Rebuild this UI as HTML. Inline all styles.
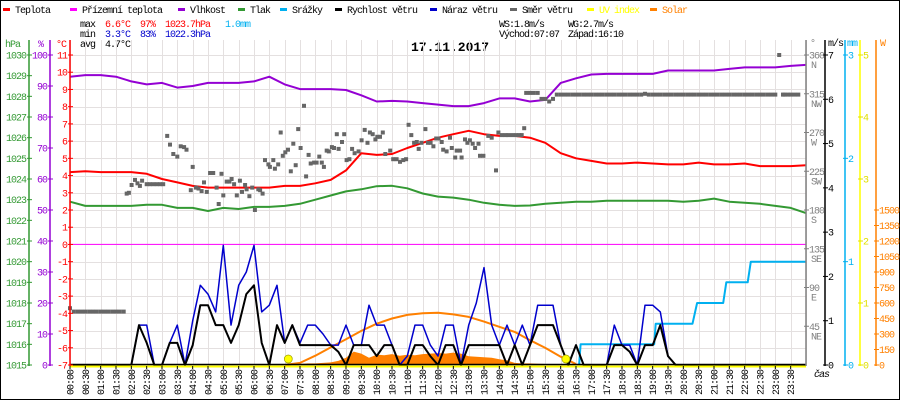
<!DOCTYPE html>
<html><head><meta charset="utf-8">
<style>
html,body{margin:0;padding:0;background:#fff;}
#wrap{position:relative;width:900px;height:400px;overflow:hidden;}
svg text{font-family:"Liberation Mono","DejaVu Sans Mono",monospace;font-size:10px;letter-spacing:-1px;}
</style></head>
<body>
<div id="wrap">
<svg id="chart" width="900" height="400" viewBox="0 0 900 400" xmlns="http://www.w3.org/2000/svg">
<rect x="0.5" y="0.5" width="899" height="399" fill="#fff" stroke="#000"/>
<g id="legend"></g>
<g>
<text x="80" y="27" fill="#000">max</text><text x="105" y="27" fill="#f00">6.6°C</text><text x="140" y="27" fill="#f00">97%</text><text x="165" y="27" fill="#f00">1023.7hPa</text><text x="225" y="27" fill="#00b0f0">1.0mm</text>
<text x="80" y="37" fill="#000">min</text><text x="105" y="37" fill="#0000cc">3.3°C</text><text x="140" y="37" fill="#0000cc">83%</text><text x="165" y="37" fill="#0000cc">1022.3hPa</text>
<text x="80" y="47" fill="#000">avg</text><text x="105" y="47" fill="#000">4.7°C</text>
<text x="499" y="27" fill="#000">WS:1.8m/s</text><text x="568" y="27" fill="#000">WG:2.7m/s</text>
<text x="499" y="37" fill="#000">Východ:07:07</text><text x="568" y="37" fill="#000">Západ:16:10</text>
</g>
<text x="450" y="51" text-anchor="middle" style="font-size:13px;font-weight:bold;letter-spacing:0">17.11.2017</text>
<g id="grid"></g>
<g id="series"></g>
<g id="axes"></g>
</svg>
</div>
<script>
// ---- data ----
const halfHours = [0,0.5,1,1.5,2,2.5,3,3.5,4,4.5,5,5.5,6,6.5,7,7.5,8,8.5,9,9.5,10,10.5,11,11.5,12,12.5,13,13.5,14,14.5,15,15.5,16,16.5,17,17.5,18,18.5,19,19.5,20,20.5,21,21.5,22,22.5,23,23.5,24];
const temperature = [4.2,4.25,4.2,4.2,4.2,4.1,3.8,3.6,3.4,3.3,3.3,3.3,3.3,3.3,3.4,3.4,3.55,3.75,4.3,5.3,5.2,5.25,5.6,5.9,6.2,6.4,6.6,6.4,6.3,6.3,6.2,5.9,5.3,5.0,4.85,4.7,4.7,4.75,4.7,4.65,4.65,4.75,4.65,4.65,4.7,4.55,4.55,4.55,4.6];
const apparentTemp = [0,0,0,0,0,0,0,0,0,0,0,0,0,0,0,0,0,0,0,0,0,0,0,0,0,0,0,0,0,0,0,0,0,0,0,0,0,0,0,0,0,0,0,0,0,0,0,0,0];
const humidity = [93,93.5,93.5,93,91.5,90.5,91,89.5,90,91,91,91,91.5,93,90.5,89,89,89,88.7,87,85,85.2,85,84.5,84,83.5,83.5,84.5,86,86,85,85.5,91,92.5,93.7,93.9,93.9,93.9,93.9,95,95,95,95,95.5,96,96,96,96.5,96.8];
const pressure = [1022.9,1022.7,1022.7,1022.7,1022.7,1022.75,1022.75,1022.6,1022.6,1022.45,1022.6,1022.55,1022.65,1022.65,1022.7,1022.8,1023.0,1023.2,1023.4,1023.5,1023.65,1023.67,1023.55,1023.3,1023.15,1023.1,1023.0,1022.85,1022.75,1022.7,1022.72,1022.8,1022.85,1022.9,1022.9,1022.95,1022.95,1022.95,1022.95,1022.95,1022.9,1022.95,1023.05,1022.9,1022.85,1022.8,1022.7,1022.6,1022.35];
const quarterHours = [0,0.25,0.5,0.75,1,1.25,1.5,1.75,2,2.25,2.5,2.75,3,3.25,3.5,3.75,4,4.25,4.5,4.75,5,5.25,5.5,5.75,6,6.25,6.5,6.75,7,7.25,7.5,7.75,8,8.25,8.5,8.75,9,9.25,9.5,9.75,10,10.25,10.5,10.75,11,11.25,11.5,11.75,12,12.25,12.5,12.75,13,13.25,13.5,13.75,14,14.25,14.5,14.75,15,15.25,15.5,15.75,16,16.25,16.5,16.75,17,17.25,17.5,17.75,18,18.25,18.5,18.75,19,19.25,19.5,19.75,20,20.25,20.5,20.75,21,21.25,21.5,21.75,22,22.25,22.5,22.75,23,23.25,23.5,23.75,24];
const windSpeed = [0,0,0,0, 0,0,0,0, 0,0.9,0.5,0, 0,0.5,0.5,0, 0.45,1.35,1.35,0.9, 0.9,0.5,0.9,1.6, 1.8,0.5,0,0.9, 0.5,0.9,0.45,0.45, 0.45,0.45,0.45,0.3, 0,0.45,0.45,0.45, 0.2,0.45,0.45,0, 0,0.45,0.45,0.2, 0,0.45,0.45,0, 0.45,0.45,0.45,0.45, 0.45,0,0.45,0, 0.45,0.9,0.9,0.9, 0.45,0,0.45,0, 0,0,0,0.45, 0.45,0.3,0,0.45, 0.45,0.9,0.2,0, 0,0,0,0, 0,0,0,0, 0,0,0,0, 0,0,0,0, 0];
const windGust = [0,0,0,0, 0,0,0,0, 0,0.9,0.9,0, 0,0.5,0.9,0, 1.0,1.8,1.6,1.2, 2.7,0.9,1.8,2.1, 2.7,1.2,1.35,1.8, 0.5,0.9,0.5,0.9, 0.9,0.7,0.45,0.45, 0.9,0.45,0.45,1.35, 0.9,0.9,0.45,0, 0.2,0.9,0.9,0.45, 0.2,0.9,0.9,0, 0.9,1.4,2.2,0.9, 0.45,0.9,0.45,0.9, 0.45,1.35,1.35,1.35, 0.45,0,0.45,0, 0,0,0,0.9, 0.45,0.45,0,1.35, 1.35,1.2,0.2,0, 0,0,0,0, 0,0,0,0, 0,0,0,0, 0,0,0,0, 0];
const dirTime = [0,0.125,0.25,0.375,0.5,0.625,0.75,0.875,1,1.125,1.25,1.375,1.5,1.625,1.75,
1.85,1.92,2.01,2.12,2.2,2.28,2.35,2.5,2.61,2.72,2.83,2.94,3.04,3.17,3.26,3.37,3.5,3.61,3.72,3.8,3.94,4.0,4.11,4.19,4.29,4.37,4.46,4.57,4.67,4.78,4.85,4.94,5.0,5.11,5.2,5.27,5.35,5.44,5.54,5.61,5.71,5.76,5.85,5.94,6.03,6.14,6.2,6.28,6.36,6.47,6.52,6.63,6.68,6.79,6.87,6.94,7.02,7.11,7.2,7.28,7.36,7.44,7.52,7.63,7.7,7.78,7.85,7.96,8.04,8.13,8.21,8.28,8.37,8.44,8.54,8.61,8.7,8.76,8.87,8.94,9.02,9.11,9.2,9.28,9.41,9.51,9.61,9.7,9.78,9.87,9.96,10.02,10.11,10.2,10.28,10.44,10.54,10.65,10.76,10.87,10.96,11.04,11.13,11.22,11.31,11.37,11.46,11.59,11.67,11.76,11.85,11.94,12.02,
12.12,12.17,12.28,12.39,12.45,12.56,12.61,12.72,12.77,12.88,12.96,13.04,13.13,13.21,13.32,13.37,13.48,13.64,13.75,13.89,13.97,14.08,14.2,14.3,14.43,14.55,14.65,14.73,14.81,
14.875,15,15.125,15.25,15.375,15.5,15.625,15.75,
15.875,16,16.125,16.25,16.375,16.5,16.625,16.75,16.875,17,17.125,17.25,17.375,17.5,17.625,17.75,17.875,18,18.125,18.25,18.375,18.5,18.625,18.75,18.875,19,19.125,19.25,19.375,19.5,19.625,19.75,19.875,20,20.125,20.25,20.375,20.5,20.625,20.75,20.875,21,21.125,21.25,21.375,21.5,21.625,21.75,21.875,22,22.125,22.25,22.375,22.5,22.625,22.75,22.875,23,23.125,23.25,23.3,23.4,23.5,23.625,23.75,23.875,24];
const dirValue = [66,62,62,62,62,62,62,62,62,62,62,62,62,62,62,
199,200,209,215,211,208,214,210,210,210,210,210,210,266,256,245,242,254,253,250,203,230,206,205,202,212,201,223,223,206,187,222,197,213,213,216,210,197,214,201,209,204,196,206,180,204,203,199,238,233,230,238,228,233,270,243,247,250,225,257,232,274,252,301,219,244,234,235,235,242,235,230,249,248,253,252,268,251,259,268,238,239,251,246,248,261,273,258,270,268,262,265,265,270,245,249,239,239,236,238,239,279,267,258,259,251,258,274,258,258,254,263,263,
259,250,248,264,252,241,249,249,241,262,258,261,257,252,257,243,243,266,264,226,270,267,267,267,267,267,267,267,275,
316,316,316,316,309,309,306,309,
314,314,314,314,314,314,314,314,314,314,314,314,314,314,314,314,314,314,314,314,314,314,314,315,314,314,314,314,314,314,314,314,314,314,314,314,314,314,314,314,314,314,314,314,314,314,314,314,314,314,314,314,314,314,314,314,314,314,360,314,314,314,314,314,314];
const solarTime = [7,7.25,7.5,7.75,8,8.25,8.5,8.75,9,9.25,9.5,9.75,10,10.25,10.5,10.75,11,11.25,11.5,11.75,12,12.25,12.5,12.75,13,13.25,13.5,13.75,14,14.25,14.5,14.75,15,15.25,15.5,15.75,16,16.25,16.5];
const solarActual = [0,5,10,15,15,20,25,40,70,130,110,70,100,95,105,90,100,95,105,110,115,110,120,110,85,80,75,70,55,45,20,15,15,12,10,8,5,2,0];
const solarTheoTime = [7,7.5,8,8.5,9,9.5,10,10.5,11,11.5,12,12.5,13,13.5,14,14.5,15,15.5,16,16.5];
const solarTheo = [0,20,90,170,250,330,400,450,485,500,505,490,465,420,370,320,240,165,80,10];
const rainTime = [16.6,16.65,19.05,19.1,20.3,20.45,21.3,21.4,22.1,22.2,24];
const rainValue = [0,0.2,0.2,0.4,0.4,0.6,0.6,0.8,0.8,1.0,1.0];
const sunEvents = [7.12,16.17];
const hpaTicks = [1030,1029,1028,1027,1026,1025,1024,1023,1022,1021,1020,1019,1018,1017,1016,1015];
const humTicks = [100,90,80,70,60,50,40,30,20,10,0];
const tempTicks = [11,10,9,8,7,6,5,4,3,2,1,0,-1,-2,-3,-4,-5,-6,-7];
const dirTicks = [360,315,270,225,180,135,90,45];
const dirNames = ["N","NW","W","SW","S","SE","E","NE"];
const msTicks = [7,6,5,4,3,2,1,0];
const mmTicks = [3,2,1,0];
const uvTicks = [5,4,3,2,1,0];
const wTicks = [1500,1350,1200,1050,900,750,600,450,300,150,0];
const timeLabels = ["00:00","00:30","01:00","01:30","02:00","02:30","03:00","03:30","04:00","04:30","05:00","05:30","06:00","06:30","07:00","07:30","08:00","08:30","09:00","09:30","10:00","10:30","11:00","11:30","12:00","12:30","13:00","13:30","14:00","14:30","15:00","15:30","16:00","16:30","17:00","17:30","18:00","18:30","19:00","19:30","20:00","20:30","21:00","21:30","22:00","22:30","23:00","23:30"];
const legendNames = ["Teplota","Přízemní teplota","Vlhkost","Tlak","Srážky","Rychlost větru","Náraz větru","Směr větru","UV index","Solar"];

// ---- scales ----
const X0=70, X1=806, Y0=55, YB=365;
const xT = t => X0 + t*(X1-X0)/24;
const yTemp = v => Y0 + (11-v)*(YB-Y0)/18;
const yHum = v => YB - v*(YB-Y0)/100;
const yPres = v => YB - (v-1015)*(YB-Y0)/15;
const yDir = v => YB - v*(YB-Y0)/360;
const yWind = v => YB - v*(YB-Y0)/7;
const yRain = v => YB - v*(YB-Y0)/3;
const yUV = v => YB - v*(YB-Y0)/5;
const ySol = v => YB - v*155/1500;

const NS="http://www.w3.org/2000/svg";
function mk(tag, parent, attrs){const e=document.createElementNS(NS,tag);for(const k in attrs)e.setAttribute(k,attrs[k]);parent.appendChild(e);return e;}
const grid=document.getElementById('grid'), ser=document.getElementById('series'), axes=document.getElementById('axes'), leg=document.getElementById('legend');

const legColors=["#ff0000","#ff00ff","#9400d3","#339933","#00b0f0","#000000","#0000cc","#666666","#ffff00","#ff8000"];
const legSwatchX=[3,70,178,238,280,335,430,510,587,650];
legendNames.forEach((n,i)=>{
  const g=mk('g',leg,{});
  
  
  mk('rect',g,{x:legSwatchX[i],y:8,width:7,height:3,fill:legColors[i]});
  const t=mk('text',g,{x:legSwatchX[i]+12,y:13,fill:(i>=8?legColors[i]:'#000')});
  t.textContent=n;
});

for(let i=0;i<=48;i++){
  const x=Math.round(xT(i*0.5))+0.5;
  const l=mk('line',grid,{x1:x,x2:x,y1:40,y2:YB,stroke:'#e4e0e0','stroke-width':1});
  
  
}
tempTicks.forEach(v=>{
  const y=Math.round(yTemp(v))+0.5;
  const l=mk('line',grid,{x1:X0,x2:X1,y1:y,y2:y,stroke:'#e4e0e0','stroke-width':1});
  
  
});

function line(ts, vs, yf, color, w, name){
  const pts=ts.map((t,i)=>xT(t).toFixed(1)+','+yf(vs[i]).toFixed(1)).join(' ');
  const p=mk('polyline',ser,{points:pts,fill:'none',stroke:color,'stroke-width':w,'stroke-linejoin':'round'});
  
  
  return p;
}
{
  let d='M'+xT(solarTime[0]).toFixed(1)+','+YB;
  solarTime.forEach((t,i)=>{d+=' L'+xT(t).toFixed(1)+','+ySol(solarActual[i]).toFixed(1);});
  d+=' L'+xT(solarTime[solarTime.length-1]).toFixed(1)+','+YB+' Z';
  const p=mk('path',ser,{d:d,fill:'#ff8000'});
  
  
}
line(solarTheoTime,solarTheo,ySol,'#ff8000',2,'solar-theoretical-line');
line(halfHours,apparentTemp,yTemp,'#ff00ff',1,'apparent-temperature-line');
line(halfHours,pressure,yPres,'#339933',2,'pressure-line');
line(halfHours,humidity,yHum,'#9400d3',2,'humidity-line');
line(halfHours,temperature,yTemp,'#ff0000',2,'temperature-line');
dirTime.forEach((t,i)=>{
  const v=dirValue[i];
  if(typeof v!=='number') return;
  const y=yDir(v);
  if(!(y>=40)) return;
  const r=mk('rect',ser,{x:(xT(t)-2).toFixed(1),y:(y-2).toFixed(1),width:4,height:4,fill:'#666666'});
  
  
});
line(rainTime,rainValue,yRain,'#00b0f0',2,'precipitation-line');
line(quarterHours,windGust,yWind,'#0000cc',1.5,'wind-gust-line');
line(quarterHours,windSpeed,yWind,'#000000',2,'wind-speed-line');
sunEvents.forEach((t,i)=>{
  const c=mk('circle',ser,{cx:xT(t).toFixed(1),cy:359,r:4,fill:'#ffff00',stroke:'#a0a000','stroke-width':0.7});
  
  
});
{
  const u=mk('line',ser,{x1:X0,x2:X1,y1:366.5,y2:366.5,stroke:'#ffff00','stroke-width':2});
  
  
  const b=mk('line',ser,{x1:X0,x2:X1,y1:364.5,y2:364.5,stroke:'#000','stroke-width':1.5});
  
  
}

function vaxis(x, color, name, top){
  const l=mk('line',axes,{x1:x,x2:x,y1:top,y2:YB+1,stroke:color,'stroke-width':1.5});
  
  
}
function txt(x,y,s,color,anchor,name){
  const t=mk('text',axes,{x:x,y:y,fill:color,'text-anchor':anchor||'start'});
  t.textContent=s;
  
  
  return t;
}
function tick(x,y,color){mk('line',axes,{x1:x-2,x2:x+3,y1:y,y2:y,stroke:color,'stroke-width':1});}
vaxis(29,'#339933','hpa-axis',40); vaxis(50,'#9400d3','humidity-axis',40); vaxis(70,'#ff0000','temperature-axis',40);
txt(5,47,'hPa','#339933','start','hpa-axis-title');
txt(38,47,'%','#9400d3','start','humidity-axis-title');
txt(56,47,'°C','#ff0000','start','temperature-axis-title');
hpaTicks.forEach(v=>{const y=yPres(v);tick(29,y,'#339933');txt(26,y+3.5,String(v),'#339933','end','hpa-tick-label');});
humTicks.forEach(v=>{const y=yHum(v);tick(50,y,'#9400d3');txt(47,y+3.5,String(v),'#9400d3','end','humidity-tick-label');});
tempTicks.forEach(v=>{const y=yTemp(v);tick(70,y,'#ff0000');txt(67,y+3.5,String(v),'#ff0000','end','temperature-tick-label');});

vaxis(806,'#808080','wind-direction-axis',40); vaxis(825,'#000','wind-speed-axis',40); vaxis(845,'#00b0f0','precipitation-axis',40); vaxis(860,'#ffff00','uv-axis',40); vaxis(876,'#ff8000','solar-axis',40);
txt(810,46,'°','#808080','start','direction-axis-title');
txt(828,46,'m/s','#000','start','wind-axis-title');
txt(847,46,'mm','#00b0f0','start','precip-axis-title');
txt(880,46,'W','#ff8000','start','solar-axis-title');
dirTicks.forEach((v,i)=>{const y=yDir(v);tick(806,y,'#808080');txt(809,y+3.5,String(v),'#808080','start','direction-tick-label');txt(811,y+13,dirNames[i],'#808080','start','direction-name-label');});
msTicks.forEach(v=>{const y=yWind(v);tick(825,y,'#000');txt(828,y+3.5,String(v),'#000','start','wind-tick-label');});
mmTicks.forEach(v=>{const y=yRain(v);tick(845,y,'#00b0f0');txt(848,y+3.5,String(v),'#00b0f0','start','precip-tick-label');});
uvTicks.forEach(v=>{const y=yUV(v);tick(860,y,'#e0e000');txt(863,y+3.5,String(v),'#e0e000','start','uv-tick-label');});
wTicks.forEach(v=>{const y=ySol(v);tick(876,y,'#ff8000');txt(879,y+3.5,String(v),'#ff8000','start','solar-tick-label');});
txt(814,377,'čas','#000','start','x-axis-title').setAttribute('font-style','italic');

timeLabels.forEach((s,i)=>{
  const x=xT(i*0.5);
  mk('line',axes,{x1:x,x2:x,y1:366,y2:369,stroke:'#000','stroke-width':1});
  const t=mk('text',axes,{x:0,y:0,fill:'#000','text-anchor':'end',transform:'translate('+(x+3.5).toFixed(1)+',370) rotate(-90)'});
  t.textContent=s;
  
  
});
</script>
</body></html>
